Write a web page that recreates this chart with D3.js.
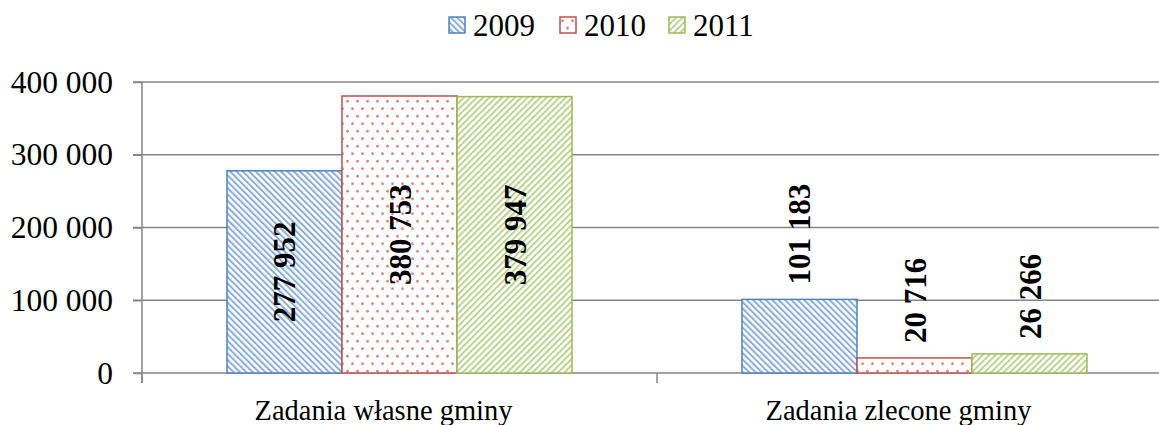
<!DOCTYPE html>
<html lang="pl">
<head>
  <meta charset="UTF-8">
  <title>Zadania gminy 2009-2011</title>
  <script src="https://cdnjs.cloudflare.com/ajax/libs/d3/7.8.5/d3.min.js"></script>
  <style>
    body {
      margin: 0;
      background: white;
    }
    svg {
      display: block;
      font-family: "Liberation Serif", "Times New Roman", serif;
    }
    .grid line {
      stroke: #868686;
      stroke-width: 1.5;
    }
    .value-label {
      font-weight: bold;
      font-size: 31px;
    }
  </style>
</head>
<body>
  <script>
    var categories = ["Zadania własne gminy", "Zadania zlecone gminy"];
    var years = ["2009", "2010", "2011"];
    var values2009 = [277952, 101183];
    var values2010 = [380753, 20716];
    var values2011 = [379947, 26266];
    var yTicks = [0, 100000, 200000, 300000, 400000];

    var colors = ["#4F81BD", "#C0504D", "#9BBB59"];

    var w = 1159;
    var h = 425;
    var plotLeft = 142, plotRight = 1172, plotTop = 82, plotBottom = 373;

    var series = [values2009, values2010, values2011];
    var data = [];
    categories.forEach(function(c, ci) {
      years.forEach(function(y, yi) {
        data.push({cat: c, year: y, yi: yi, value: series[yi][ci]});
      });
    });

    var pl = d3.formatLocale({decimal: ",", thousands: " ", grouping: [3], currency: ["", ""]});
    var fmt = pl.format(",");

    var svg = d3.select("body").append("svg")
      .attr("width", w)
      .attr("height", h);

    // patterns
    var defs = svg.append("defs");

    var pBlue = defs.append("pattern")
      .attr("id", "p0")
      .attr("patternUnits", "userSpaceOnUse")
      .attr("width", 4.5).attr("height", 4.5)
      .attr("patternTransform", "rotate(-45)");
    pBlue.append("rect").attr("width", 4.5).attr("height", 4.5).attr("fill", "white");
    pBlue.append("rect").attr("width", 2).attr("height", 4.5).attr("fill", "#8aaedb");

    var pRed = defs.append("pattern")
      .attr("id", "p1")
      .attr("patternUnits", "userSpaceOnUse")
      .attr("width", 10).attr("height", 15);
    pRed.append("rect").attr("width", 10).attr("height", 15).attr("fill", "white");
    pRed.append("circle").attr("cx", 2.5).attr("cy", 3.75).attr("r", 1.4).attr("fill", "#e08684");
    pRed.append("circle").attr("cx", 7.5).attr("cy", 11.25).attr("r", 1.4).attr("fill", "#e08684");

    var pGreen = defs.append("pattern")
      .attr("id", "p2")
      .attr("patternUnits", "userSpaceOnUse")
      .attr("width", 4.5).attr("height", 4.5)
      .attr("patternTransform", "rotate(45)");
    pGreen.append("rect").attr("width", 4.5).attr("height", 4.5).attr("fill", "white");
    pGreen.append("rect").attr("width", 2).attr("height", 4.5).attr("fill", "#bcd48e");

    var x0 = d3.scaleBand()
      .domain(categories)
      .range([plotLeft, plotRight])
      .padding(0);

    var x1 = d3.scaleBand()
      .domain(years)
      .range([0, x0.bandwidth()])
      .paddingInner(0)
      .paddingOuter(0.739);

    var yScale = d3.scaleLinear()
      .domain([0, 400000])
      .range([plotBottom, plotTop]);

    // gridlines
    svg.append("g")
      .classed("grid", true)
      .selectAll("line")
      .data(yTicks)
      .enter()
      .append("line")
      .attr("x1", plotLeft - 9)
      .attr("x2", w)
      .attr("y1", function(d) { return yScale(d); })
      .attr("y2", function(d) { return yScale(d); });

    // y axis
    var yAxis = svg.append("g")
      .attr("transform", "translate(" + plotLeft + ",0)")
      .call(d3.axisLeft(yScale).tickValues(yTicks).tickFormat(fmt).tickSize(9).tickPadding(20));
    yAxis.select(".domain").attr("stroke", "#868686").attr("stroke-width", 1.5)
      .attr("d", "M0," + plotTop + "V" + (plotBottom + 10));
    yAxis.selectAll(".tick line").attr("stroke", "#868686").attr("stroke-width", 1.5);
    yAxis.selectAll(".tick text")
      .attr("fill", "black")
      .style("font-size", "31.5px")
      .style("font-family", "'Liberation Serif', serif");

    // category ticks
    var catTicks = [plotLeft, plotLeft + x0.bandwidth()];
    svg.selectAll(".cat-tick")
      .data(catTicks)
      .enter()
      .append("line")
      .attr("x1", function(d) { return d; })
      .attr("x2", function(d) { return d; })
      .attr("y1", plotBottom)
      .attr("y2", plotBottom + 10)
      .attr("stroke", "#868686")
      .attr("stroke-width", 1.5);

    // bars
    svg.selectAll(".bar")
      .data(data)
      .enter()
      .append("rect")
      .classed("bar", true)
      .attr("x", function(d) { return x0(d.cat) + x1(d.year); })
      .attr("y", function(d) { return yScale(d.value); })
      .attr("width", x1.bandwidth())
      .attr("height", function(d) { return plotBottom - yScale(d.value); })
      .attr("fill", function(d) { return "url(#p" + d.yi + ")"; })
      .attr("stroke", function(d) { return colors[d.yi]; })
      .attr("stroke-width", 1.5);

    // value labels: inside centre for the big bars, above for the small ones
    svg.selectAll(".value-label")
      .data(data)
      .enter()
      .append("text")
      .classed("value-label", true)
      .attr("text-anchor", function(d) { return d.value > 200000 ? "middle" : "start"; })
      .attr("transform", function(d) {
        var cx = x0(d.cat) + x1(d.year) + x1.bandwidth() / 2 + 11;
        var cy = d.value > 200000 ? (yScale(d.value) + plotBottom) / 2 : yScale(d.value) - 15;
        return "translate(" + cx + "," + cy + ") rotate(-90)";
      })
      .text(function(d) { return fmt(d.value); });

    // category labels
    svg.selectAll(".cat-label")
      .data(categories)
      .enter()
      .append("text")
      .attr("x", function(d) { return x0(d) + x0.bandwidth() / 2 - 16; })
      .attr("y", 420)
      .attr("text-anchor", "middle")
      .style("font-size", "28.5px")
      .text(function(d) { return d; });

    // legend
    var legendX = [449, 560, 669];
    var legend = svg.selectAll(".legend")
      .data(years)
      .enter()
      .append("g")
      .attr("transform", function(d, i) { return "translate(" + legendX[i] + ",17)"; });
    legend.append("rect")
      .attr("width", 16)
      .attr("height", 16)
      .attr("fill", function(d, i) { return "url(#p" + i + ")"; })
      .attr("stroke", function(d, i) { return colors[i]; })
      .attr("stroke-width", 1.5);
    legend.append("text")
      .attr("x", 24)
      .attr("y", 19)
      .style("font-size", "31px")
      .text(function(d) { return d; });
  </script>
</body>
</html>
